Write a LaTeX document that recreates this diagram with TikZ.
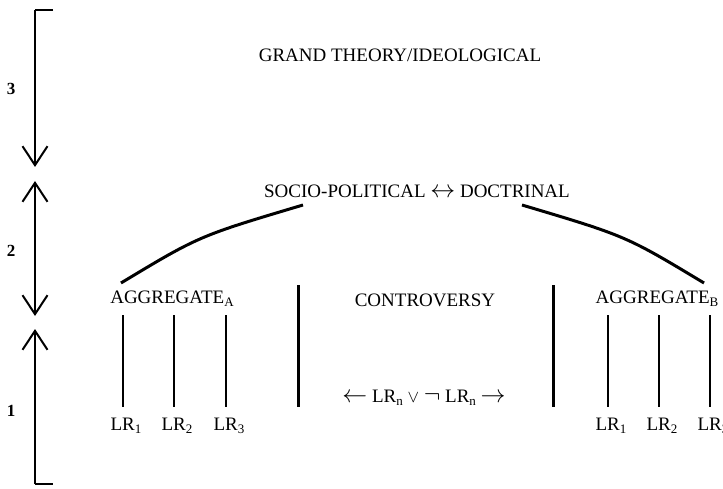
\documentclass[tikz,border=0pt]{standalone}
\usepackage{fontspec}
\setmainfont{Liberation Serif}
\usetikzlibrary{arrows.meta}
\newcommand{\lowsub}[1]{\raisebox{-0.45ex}{\fontsize{13}{14}\selectfont #1}}
\newcommand{\bigsym}[1]{{\fontsize{23}{24}\selectfont$#1$}}
\newcommand{\smallsym}[1]{{\fontsize{16}{18}\selectfont$#1$}}
\tikzset{
  lbl/.style={inner sep=0pt, anchor=base, font=\fontsize{19}{22}\selectfont},
  lvl/.style={inner sep=0pt, anchor=base, font=\fontsize{17}{20}\selectfont\bfseries},
  axis/.style={line width=2pt, arrows={-Straight Barb[length=19pt,width=25pt,line width=2pt]}},
  axisboth/.style={line width=2pt, arrows={Straight Barb[length=19pt,width=25pt,line width=2pt]-Straight Barb[length=19pt,width=25pt,line width=2pt]}},
  thin/.style={line width=1.3pt},
  thick bar/.style={line width=3pt},
  link/.style={line width=3pt}
}
\begin{document}
\begin{tikzpicture}[x=1pt,y=-1pt]
\useasboundingbox (0,0) rectangle (723,489);
% level axis
\coordinate (t0) at (53,10);
\coordinate (t1) at (35,10);
\coordinate (t2) at (35,167);
\coordinate (m1) at (35,181);
\coordinate (m2) at (35,316);
\coordinate (b1) at (35,329);
\coordinate (b2) at (35,484);
\coordinate (b3) at (53,484);
\draw[line width=2pt] (t0) -- (t1);
\draw[axis] (t1) -- (t2);
\draw[axisboth] (m1) -- (m2);
\draw[axis] (b2) -- (b1);
\draw[line width=2pt] (b2) -- (b3);
\node[lvl] (n3) at (11,95) {3};
\node[lvl] (n2) at (11,256) {2};
\node[lvl] (n1) at (11,416) {1};
% texts
\node[lbl] (grand) at (400,62) {GRAND THEORY/IDEOLOGICAL};
\node[lbl] (socio) at (417,198) {SOCIO-POLITICAL \bigsym{\leftrightarrow} DOCTRINAL};
\node[lbl] (aggA) at (172,303) {AGGREGATE\lowsub{A}};
\node[lbl] (contro) at (425,306) {CONTROVERSY};
\node[lbl] (aggB) at (657,303) {AGGREGATE\lowsub{B}};
\node[lbl] (lrn) at (424,402) {\bigsym{\leftarrow} LR\lowsub{n} \smallsym{\vee} \bigsym{\neg} LR\lowsub{n} \bigsym{\rightarrow}};
% curves
\coordinate (cA) at (121,283);
\coordinate (cS) at (303,205);
\coordinate (cD) at (522,205);
\coordinate (cB) at (704,283);
\draw[link] (cA) .. controls (199,236) .. (cS);
\draw[link] (cD) .. controls (626,236) .. (cB);
% thick bars
\coordinate (p1) at (298,285);
\coordinate (p2) at (298,407);
\coordinate (q1) at (553,285);
\coordinate (q2) at (553,407);
\draw[thick bar] (p1) -- (p2);
\draw[thick bar] (q1) -- (q2);
% LR lines
\foreach \x/\s/\n in {123/1/la1,174/2/la2,226/3/la3,608/1/lb1,659/2/lb2,710/3/lb3}{
  \coordinate (\n top) at (\x,315);
  \coordinate (\n bot) at (\x,407);
  \draw[thin] (\n top) -- (\n bot);
  \node[lbl] (\n) at (\x+3,430) {LR\lowsub{\s}};
}
\end{tikzpicture}
\end{document}
